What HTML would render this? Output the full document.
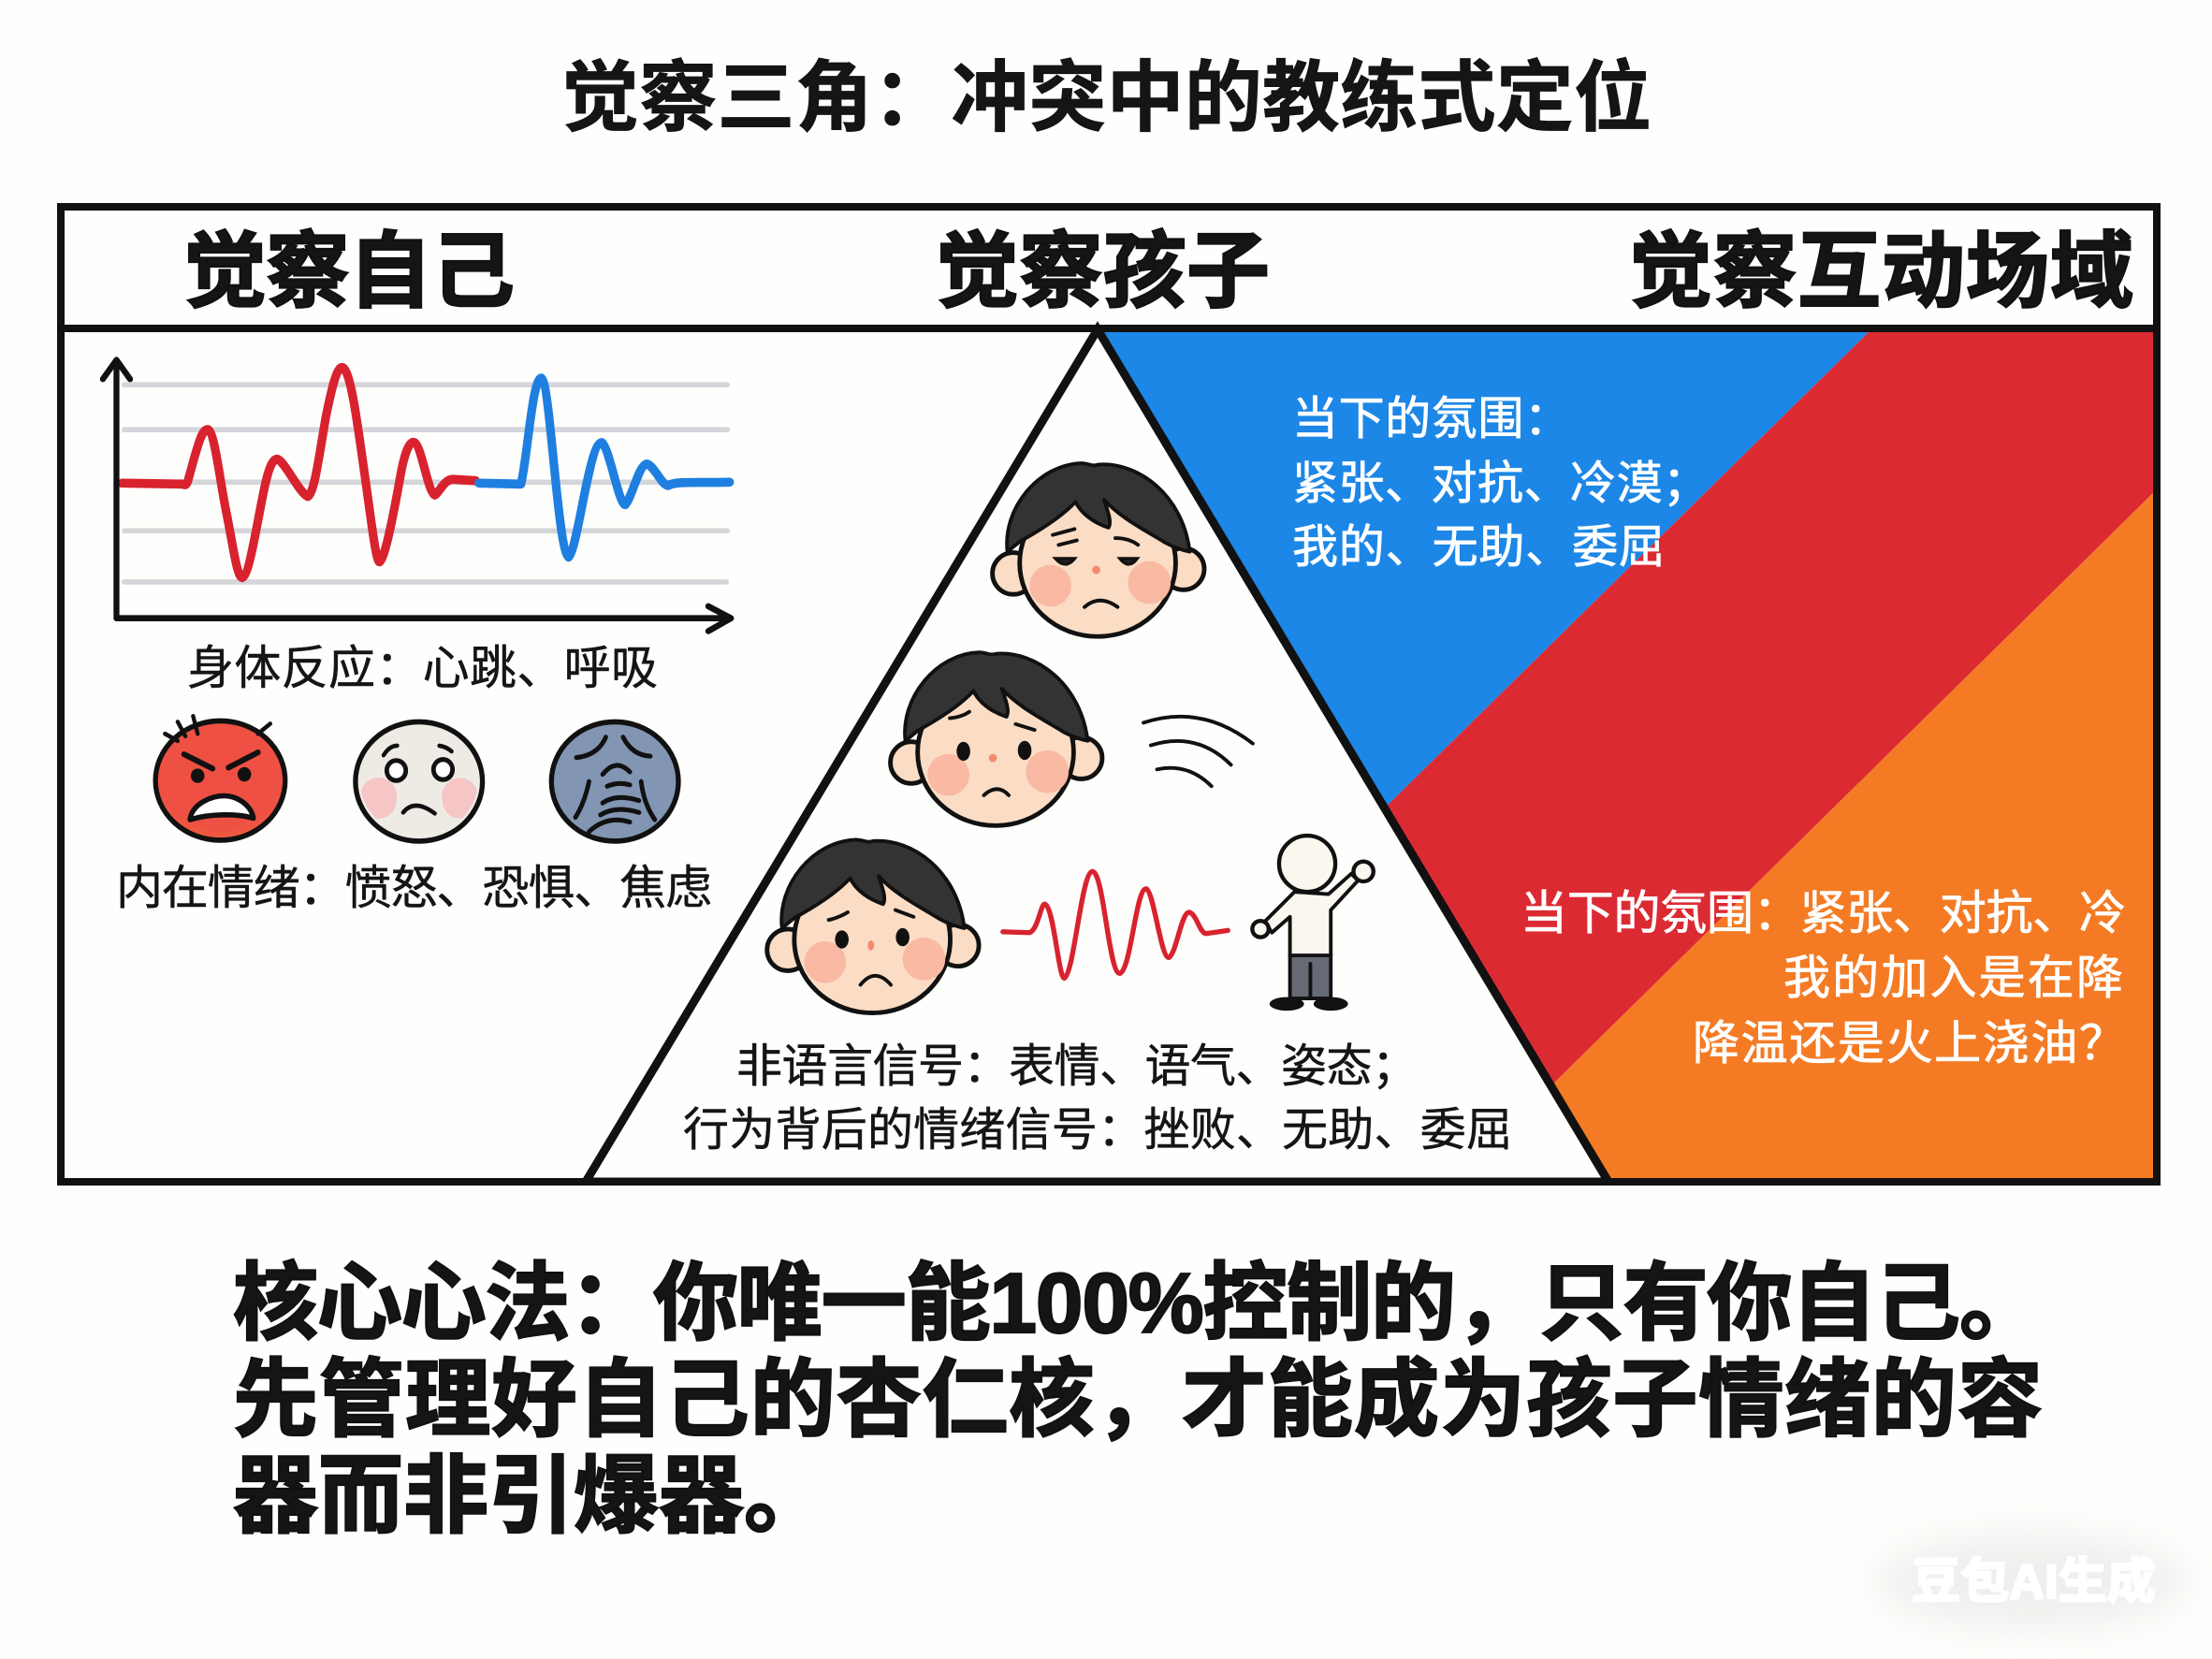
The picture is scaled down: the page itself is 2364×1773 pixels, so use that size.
<!DOCTYPE html>
<html lang="zh"><head><meta charset="utf-8"><style>
html,body{margin:0;padding:0;background:#fefefc}
svg{display:block}
text{font-family:"Liberation Sans","Noto Sans CJK SC",sans-serif;fill:#151515}
.n{stroke:#151515;stroke-width:.5px}
.b{font-weight:700;stroke:#111;stroke-width:.8px}
.h{font-weight:700;stroke:#111;stroke-width:2.2px}
.w{fill:#fff;stroke:#fff;stroke-width:.8px}
.k{fill:none;stroke:#111;stroke-linecap:round;stroke-linejoin:round}
</style></head><body>
<svg xmlns="http://www.w3.org/2000/svg" width="2364" height="1773" viewBox="0 0 2364 1773">
<defs>
<filter id="soft" x="-30%" y="-60%" width="160%" height="220%"><feGaussianBlur stdDeviation="20"/></filter>
<radialGradient id="ang" cx="50%" cy="40%" r="65%"><stop offset="0" stop-color="#ef4f43"/><stop offset=".75" stop-color="#ee5044"/><stop offset="1" stop-color="#f0603a"/></radialGradient>
<g id="base">
<circle cx="625" cy="563" r="46" fill="#fbdcc4" stroke="#111" stroke-width="10"/>
<circle cx="1000" cy="553" r="46" fill="#fbdcc4" stroke="#111" stroke-width="10"/>
<ellipse cx="811" cy="540" rx="172" ry="162" fill="#fbdcc4" stroke="#111" stroke-width="10"/>
<path d="M612 515C601 420 680 323 775 320C790 320 800 328 812 323C900 316 999 390 1014 515C990 510 975 503 960 495C920 470 860 440 825 400C835 430 842 450 835 462C800 450 775 430 762 405C730 440 680 470 640 492Z" fill="#333" stroke="#111" stroke-width="8" stroke-linejoin="round"/>
<circle cx="707" cy="590" r="46" fill="#f9b9a3"/><circle cx="925" cy="583" r="47" fill="#f9b9a3"/>
</g>
</defs>
<rect width="2364" height="1773" fill="#fefefc"/>
<polygon points="1165,352 2000,352 1462,881" fill="#1c87e6"/>
<polygon points="2000,352 2302,352 2302,526 1646,1172 1462,881" fill="#dc2a33"/>
<polygon points="2302,526 2302,1261 1700,1261 1646,1172" fill="#f47b24"/>
<polygon points="626,1263 1173,352 1719,1263" fill="#fefefc" stroke="#111" stroke-width="9" stroke-linejoin="miter"/>
<rect x="580" y="1266" width="1200" height="30" fill="#fefefc"/>
<rect x="65" y="221" width="2240" height="1042" fill="none" stroke="#111" stroke-width="8"/>
<line x1="65" y1="351" x2="2305" y2="351" stroke="#111" stroke-width="8"/>

<text x="600" y="133" font-size="83" textLength="1165" class="b">觉察三角：冲突中的教练式定位</text>
<text x="196" y="321" font-size="89" textLength="354" class="h">觉察自己</text>
<text x="1000" y="321" font-size="89" textLength="357" class="h">觉察孩子</text>
<text x="1741" y="321" font-size="89" textLength="539" class="h">觉察互动场域</text>

<g transform="translate(60 200) scale(.4847 .5102)">
<g stroke="#d4d6da" stroke-width="11" stroke-linecap="round">
<line x1="150" y1="414" x2="1480" y2="414"/><line x1="150" y1="508" x2="1480" y2="508"/><line x1="150" y1="618" x2="1480" y2="618"/><line x1="150" y1="720" x2="1480" y2="720"/><line x1="150" y1="827" x2="1478" y2="827"/>
</g>
<path d="M145 620L280 622Q288 628 292 610C310 550 320 505 335 508C350 515 360 610 375 680C390 750 398 815 410 818C425 815 440 720 455 650C465 600 475 568 488 570C505 575 535 640 555 648C570 640 580 560 595 480C610 410 620 375 632 378C650 385 665 500 680 600C695 700 705 785 713 785C725 780 745 680 760 600C770 550 780 532 790 535C805 540 820 640 835 645C845 640 855 612 875 612L925 615" fill="none" stroke="#d8232f" stroke-width="19" stroke-linecap="round" stroke-linejoin="round"/>
<path d="M932 620L1025 622C1040 560 1050 400 1070 400C1090 410 1105 760 1130 775C1150 760 1175 535 1203 535C1220 545 1240 665 1255 665C1270 650 1285 580 1303 580C1320 585 1335 625 1350 625C1365 615 1420 620 1485 618" fill="none" stroke="#1f7fe0" stroke-width="19" stroke-linecap="round" stroke-linejoin="round"/>
<path class="k" stroke-width="13" d="M133 362V903H1485M103 402L133 362L163 402M1438 878L1488 903L1438 930"/>

<ellipse cx="362" cy="1243" rx="143" ry="125" fill="url(#ang)" stroke="#111" stroke-width="11"/>
<path class="k" stroke-width="9" d="M240 1145L268 1160M268 1120L285 1150M302 1108L312 1145M445 1145L472 1124"/>
<path class="k" stroke-width="12" d="M282 1188L345 1218M445 1184L380 1216"/>
<circle cx="312" cy="1233" r="15" fill="#111"/><circle cx="415" cy="1230" r="15" fill="#111"/>
<path d="M295 1325C300 1290 345 1275 370 1275C400 1275 430 1295 435 1322C400 1312 340 1312 295 1325Z" fill="#fff" stroke="#111" stroke-width="11" stroke-linejoin="round"/>
<ellipse cx="800" cy="1245" rx="140" ry="125" fill="#eeebe5" stroke="#111" stroke-width="11"/>
<path d="M672 1265A130 115 0 0 0 705 1322A38 36 0 0 0 750 1285A38 36 0 0 0 672 1265Z" fill="#f6c6c6"/><path d="M928 1265A130 115 0 0 1 895 1322A38 36 0 0 1 852 1285A38 36 0 0 1 928 1265Z" fill="#f6c6c6"/>
<circle cx="750" cy="1222" r="21" fill="#fff" stroke="#111" stroke-width="10"/><circle cx="853" cy="1220" r="21" fill="#fff" stroke="#111" stroke-width="10"/>
<path class="k" stroke-width="9" d="M722 1190Q735 1170 752 1170M845 1170Q860 1172 872 1182M765 1310Q790 1280 835 1312"/>
<ellipse cx="1232" cy="1245" rx="140" ry="125" fill="#8296b3" stroke="#111" stroke-width="11"/>
<path class="k" stroke-width="10" d="M1147 1195Q1195 1190 1212 1152M1310 1192Q1270 1190 1250 1152M1205 1230Q1235 1195 1265 1225M1175 1245Q1165 1290 1145 1320M1290 1245Q1295 1290 1320 1325M1215 1255Q1240 1245 1265 1252M1205 1290Q1235 1270 1285 1285M1200 1315Q1235 1295 1285 1310M1175 1350Q1215 1315 1265 1330"/>
</g>

<text x="200" y="731" font-size="50" textLength="503" class="n">身体反应：心跳、呼吸</text>
<text x="124" y="966" font-size="50" textLength="637" class="n">内在情绪：愤怒、恐惧、焦虑</text>

<g transform="translate(780 340) scale(.4847)">
<use href="#base"/>
<circle cx="808" cy="555" r="9" fill="#f58a70"/>
<path class="k" stroke-width="8" d="M782 637Q815 608 855 637M712 478L760 465M725 500L765 490M850 485Q880 485 900 500"/>
<path d="M718 530Q740 555 760 530Z" fill="#222" stroke="#111" stroke-width="7"/><path d="M860 530Q880 555 898 530Z" fill="#222" stroke="#111" stroke-width="7"/>
<use href="#base" x="-225" y="417"/>
<ellipse cx="515" cy="955" rx="15" ry="21" fill="#111"/><ellipse cx="650" cy="953" rx="15" ry="21" fill="#111"/>
<circle cx="580" cy="970" r="9" fill="#f58a70"/>
<path class="k" stroke-width="8" d="M560 1052Q590 1025 615 1052M485 882Q510 880 528 868M630 895L672 908"/>
<use href="#base" x="-497" y="830"/>
<ellipse cx="247" cy="1370" rx="15" ry="20" fill="#111"/><ellipse cx="381" cy="1365" rx="15" ry="20" fill="#111"/>
<ellipse cx="311" cy="1383" rx="7" ry="11" fill="#f58a70"/>
<path class="k" stroke-width="8" d="M288 1470Q320 1430 355 1470M218 1327Q240 1322 260 1310M365 1305L405 1320"/>
<path class="k" stroke-width="8" d="M912 892Q1040 850 1153 938M928 942Q1030 910 1105 985M942 995Q1010 980 1062 1032"/>
<path d="M602 1353L660 1355C680 1350 685 1290 695 1292C715 1300 725 1460 738 1455C760 1440 775 1220 800 1220C825 1225 835 1445 860 1445C885 1435 895 1258 918 1258C935 1265 950 1410 968 1410C985 1400 995 1310 1013 1310C1030 1315 1035 1355 1050 1357L1098 1350" fill="none" stroke="#d8232f" stroke-width="11" stroke-linecap="round" stroke-linejoin="round"/>
<rect x="1235" y="1405" width="90" height="95" fill="#666a75" stroke="#111" stroke-width="8"/>
<line x1="1280" y1="1420" x2="1280" y2="1500" stroke="#111" stroke-width="8"/>
<ellipse cx="1228" cy="1512" rx="38" ry="15" fill="#111"/><ellipse cx="1325" cy="1512" rx="38" ry="15" fill="#111"/>
<path d="M1245 1265L1180 1330L1195 1355L1235 1320L1235 1405L1325 1405L1325 1305L1385 1240L1370 1225L1320 1270Z" fill="#faf7ee" stroke="#111" stroke-width="8" stroke-linejoin="round"/>
<circle cx="1273" cy="1203" r="62" fill="#faf7ee" stroke="#111" stroke-width="9"/>
<circle cx="1397" cy="1220" r="22" fill="#faf7ee" stroke="#111" stroke-width="9"/>
<circle cx="1170" cy="1347" r="18" fill="#faf7ee" stroke="#111" stroke-width="9"/>
</g>

<text x="787" y="1156" font-size="49" textLength="728" class="n">非语言信号：表情、语气、姿态；</text>
<text x="730" y="1224" font-size="49" textLength="886" class="n">行为背后的情绪信号：挫败、无助、委屈</text>

<text x="1381" y="464" font-size="49" textLength="297" class="w">当下的氛围：</text>
<text x="1381" y="533" font-size="49" textLength="445" class="w">紧张、对抗、冷漠；</text>
<text x="1381" y="601" font-size="49" textLength="398" class="w">我的、无助、委屈</text>

<text x="1625" y="993" font-size="50" textLength="647" class="w">当下的氛围：紧张、对抗、冷</text>
<text x="1906" y="1062" font-size="50" textLength="363" class="w">我的加入是在降</text>
<text x="1809" y="1132" font-size="50" textLength="463" class="w">降温还是火上浇油？</text>

<text x="249" y="1424" font-size="91" textLength="1936" class="h">核心心法：你唯一能100%控制的，只有你自己。</text>
<text x="249" y="1527" font-size="91" textLength="1934" class="h">先管理好自己的杏仁核，才能成为孩子情绪的容</text>
<text x="249" y="1630" font-size="91" textLength="637" class="h">器而非引爆器。</text>

<ellipse cx="2172" cy="1690" rx="165" ry="50" fill="#dcdcda" opacity=".45" filter="url(#soft)"/>
<text x="2043" y="1708" font-size="52" textLength="261" font-weight="700" style="fill:#fff;stroke:#fff;stroke-width:2.5px">豆包AI生成</text>
</svg>
</body></html>
